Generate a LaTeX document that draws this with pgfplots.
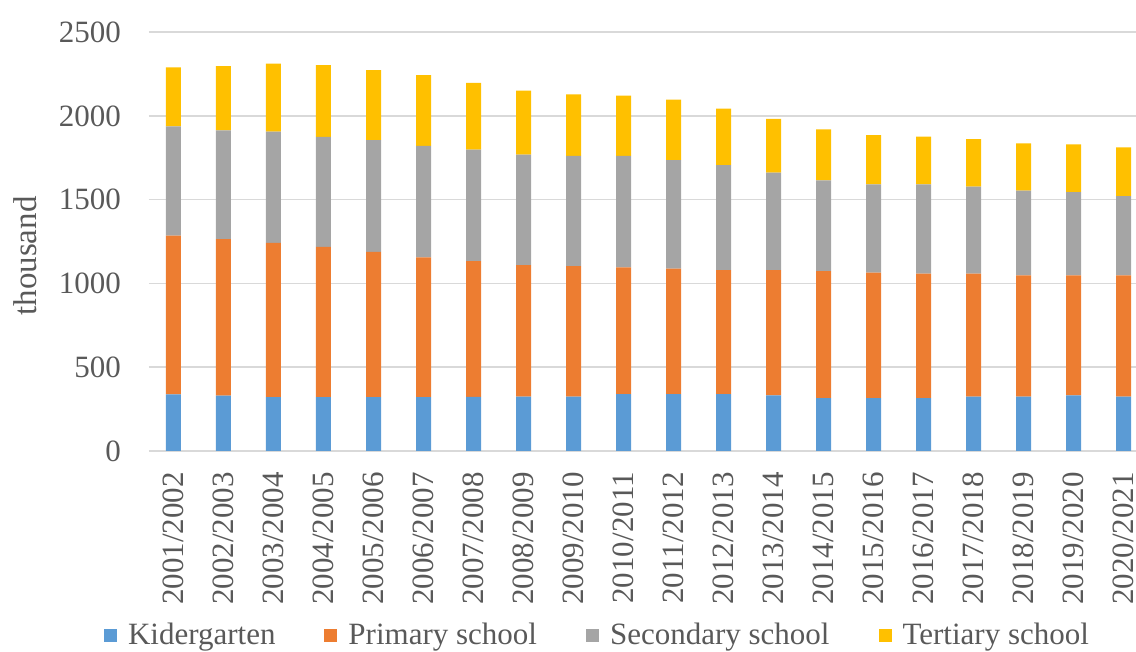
\documentclass[border=0pt]{standalone}
\usepackage{fontspec}
\setmainfont{Liberation Serif}
\usepackage{pgfplots}
\usepackage{pgfplotstable}
\pgfplotsset{compat=1.18}

\definecolor{kgblue}{HTML}{5B9BD5}
\definecolor{priorange}{HTML}{ED7D31}
\definecolor{secgray}{HTML}{A5A5A5}
\definecolor{tergold}{HTML}{FFC000}
\definecolor{txtgray}{HTML}{595959}
\definecolor{gridgray}{HTML}{D9D9D9}

% Pupils and students by level of education (thousand)
\pgfplotstableread{
idx K   P   S   T
0   338 947 653 352
1   330 934 650 384
2   322 920 664 406
3   322 896 657 429
4   322 866 667 418
5   322 834 665 422
6   323 811 665 398
7   324 786 659 382
8   324 780 657 368
9   340 756 665 360
10  340 748 649 360
11  340 740 627 337
12  332 748 581 321
13  316 757 543 304
14  316 749 527 293
15  316 743 533 285
16  324 735 519 283
17  324 725 505 283
18  332 717 497 285
19  324 725 473 291
}\enrol

\begin{document}
\begin{tikzpicture}[font=\fontsize{15.5}{18}\selectfont]
\useasboundingbox (0,0) rectangle (568pt,326pt);
\begin{axis}[
  at={(74.5pt,100.5pt)}, anchor=south west,
  scale only axis,
  width=493.5pt, height=209.4pt,
  ybar stacked, bar width=7.5pt,
  xmin=-0.49, xmax=19.25,
  ymin=0, ymax=2500,
  ytick={0,500,...,2500},
  xtick=data,
  xticklabels={2001/2002,2002/2003,2003/2004,2004/2005,2005/2006,2006/2007,2007/2008,2008/2009,2009/2010,2010/2011,2011/2012,2012/2013,2013/2014,2014/2015,2015/2016,2016/2017,2017/2018,2018/2019,2019/2020,2020/2021},
  xticklabel style={rotate=90, anchor=east, text=txtgray},
  xticklabel shift=7pt,
  yticklabel style={text=txtgray},
  yticklabel shift=10.5pt,
  /pgf/number format/assume math mode=true,
  /pgf/number format/1000 sep={},
  major tick length=0pt,
  axis line style={draw=none},
  ymajorgrids, grid style={gridgray, line width=0.75pt},
  ylabel={thousand},
  ylabel style={at={(axis description cs:-0.1256,0.4657)}, anchor=center, rotate=0,
    text=txtgray, font=\fontsize{16.5}{19}\selectfont},
  legend columns=4,
  legend style={at={(axis description cs:0.4554,-0.4394)}, anchor=center, draw=none, fill=none,
    text=txtgray, /tikz/every even column/.append style={column sep=22.5pt}},
  legend image code/.code={\path[#1, draw=none] (0pt,-3.25pt) rectangle (6.5pt,3.25pt); \path (10pt,0pt);},
]
\addplot[fill=kgblue, draw=none] table[x=idx, y=K] {\enrol};
\addplot[fill=priorange, draw=none] table[x=idx, y=P] {\enrol};
\addplot[fill=secgray, draw=none] table[x=idx, y=S] {\enrol};
\addplot[fill=tergold, draw=none] table[x=idx, y=T] {\enrol};
\legend{Kidergarten, Primary school, Secondary school, Tertiary school}
\end{axis}
\end{tikzpicture}
\end{document}
